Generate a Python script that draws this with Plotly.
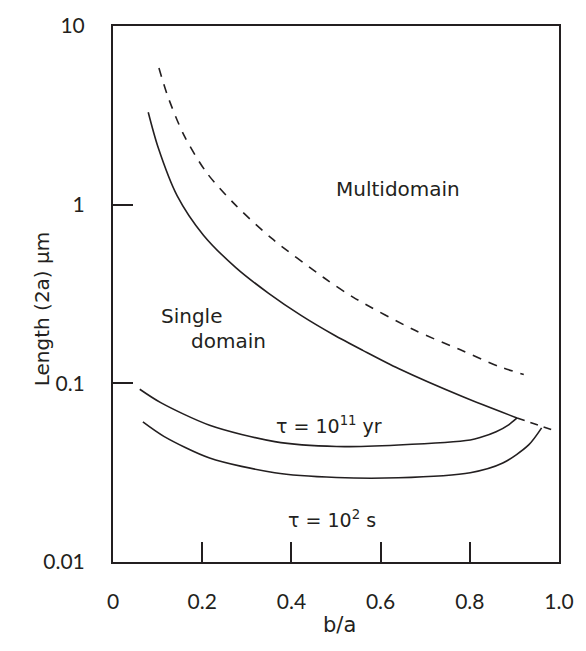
import numpy as np
import plotly.graph_objects as go

# --- data ---
# Multidomain / single-domain boundary (dashed)
dash_x = [0.103, 0.1225, 0.159, 0.210, 0.276, 0.356, 0.473, 0.539, 0.677, 0.779, 0.863, 0.921]
dash_y = [5.82, 4.06, 2.45, 1.51, 0.987, 0.647, 0.390, 0.303, 0.198, 0.154, 0.125, 0.112]

# Upper solid boundary of single-domain region
sd_x = [0.079, 0.1007, 0.144, 0.2028, 0.276, 0.349, 0.4216, 0.4945, 0.560, 0.640, 0.786, 0.906]
sd_y = [3.29, 2.11, 1.12, 0.675, 0.443, 0.319, 0.240, 0.187, 0.153, 0.121, 0.0838, 0.064]

# Dashed continuation beyond the meeting point
ext_x = [0.906, 0.988]
ext_y = [0.064, 0.0545]

# tau = 10^11 yr curve
t11_x = [0.060, 0.107, 0.2166, 0.3626, 0.501, 0.640, 0.801, 0.823, 0.859, 0.888, 0.906]
t11_y = [0.0927, 0.078, 0.0583, 0.0472, 0.0443, 0.0452, 0.0482, 0.0497, 0.0536, 0.0588, 0.064]

# tau = 10^2 s curve
t2_x = [0.067, 0.114, 0.2166, 0.3626, 0.501, 0.640, 0.801, 0.874, 0.932, 0.961]
t2_y = [0.0608, 0.0505, 0.0382, 0.0316, 0.0297, 0.0296, 0.0316, 0.0358, 0.0452, 0.0563]

x_ticks = [0, 0.2, 0.4, 0.6, 0.8, 1.0]
x_ticktext = ["0", "0.2", "0.4", "0.6", "0.8", "1.0"]
y_ticks = [0.01, 0.1, 1, 10]
y_ticktext = ["0.01", "0.1", "1", "10"]

INK = "#231f20"
LBL = "DejaVu Sans"
TICKF = "Lato"

fig = go.Figure()
line_solid = dict(color=INK, width=1.6, shape="spline", smoothing=0.8)
fig.add_trace(go.Scatter(x=dash_x, y=dash_y, mode="lines",
                         line=dict(color=INK, width=1.6, dash="9px,8px", shape="spline", smoothing=0.8)))
fig.add_trace(go.Scatter(x=sd_x, y=sd_y, mode="lines", line=line_solid))
fig.add_trace(go.Scatter(x=ext_x, y=ext_y, mode="lines",
                         line=dict(color=INK, width=1.6, dash="8px,6px")))
fig.add_trace(go.Scatter(x=t11_x, y=t11_y, mode="lines", line=line_solid))
fig.add_trace(go.Scatter(x=t2_x, y=t2_y, mode="lines", line=line_solid))

ann_font = dict(family=LBL, size=20, color=INK)
fig.add_annotation(x=0.640, y=np.log10(1.22), text="Multidomain", showarrow=False, font=ann_font)
fig.add_annotation(x=0.175, y=np.log10(0.239), text="Single", showarrow=False, font=ann_font)
fig.add_annotation(x=0.258, y=np.log10(0.172), text="domain", showarrow=False, font=ann_font)
fig.add_annotation(x=0.484, y=np.log10(0.0585), text="τ = 10<sup>11</sup> yr", showarrow=False,
                   font=dict(family=LBL, size=19, color=INK))
fig.add_annotation(x=0.492, y=np.log10(0.0175), text="τ = 10<sup>2</sup> s", showarrow=False,
                   font=dict(family=LBL, size=19, color=INK))

# axis titles
fig.add_annotation(xref="paper", yref="paper", x=-0.19, y=0.472, text="Length (2a) μm",
                   textangle=-90, showarrow=False, font=dict(family=LBL, size=20, color=INK))
fig.add_annotation(xref="paper", yref="paper", x=0.507, y=-0.143, text="b/a",
                   showarrow=False, font=dict(family=LBL, size=21, color=INK))

axis_common = dict(showgrid=False, zeroline=False, showline=True, mirror=True,
                   linecolor=INK, linewidth=2, ticks="inside", ticklen=20,
                   tickwidth=1.6, tickcolor=INK,
                   tickfont=dict(family=TICKF, size=21, color=INK))

fig.update_xaxes(range=[0, 1.0], tickvals=x_ticks, ticktext=x_ticktext,
                 ticklabelstandoff=20, **axis_common)
fig.update_yaxes(type="log", range=[-2, 1], tickvals=y_ticks, ticktext=y_ticktext,
                 ticklabelstandoff=22, **axis_common)

fig.update_layout(width=586, height=651, showlegend=False,
                  plot_bgcolor="white", paper_bgcolor="white",
                  margin=dict(l=113, r=15, t=18, b=89))

fig.write_html("out.html")
